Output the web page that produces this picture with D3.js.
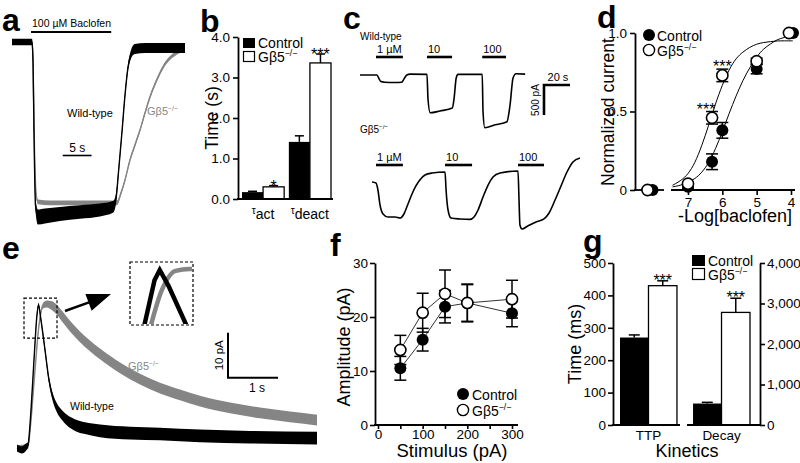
<!DOCTYPE html>
<html><head><meta charset="utf-8">
<script src="https://cdn.jsdelivr.net/npm/d3@7"></script>
<style>
body{margin:0;background:#fff}
svg{display:block}
</style></head><body>
<svg id="fig" width="800" height="463"></svg>
<script>
// ---------------- DATA ----------------
// Panel a: 100 µM baclofen response, normalized current vs time (s)
const aT_wt = [0, 3.47, 3.64, 3.81, 4.07, 4.5, 5.72, 8.3, 11.8, 15.25, 17.5, 18.0, 18.5, 19.1, 19.6, 20.1, 20.6, 21.3, 23.1, 30];
const aI_wt = [0, 0, -0.107, -0.524, -0.97, -1.042, -1.036, -1.024, -1.012, -1.0, -0.982, -0.94, -0.762, -0.524, -0.315, -0.155, -0.077, -0.042, -0.036, -0.036];
const aN_wt = [0.02, 0.02, 0.02, 0.02, 0.035, 0.045, 0.045, 0.042, 0.04, 0.038, 0.035, 0.03, 0.02, 0.02, 0.02, 0.02, 0.025, 0.03, 0.03, 0.03];
const aT_ko = [0, 3.47, 3.64, 3.9, 4.16, 4.5, 6.6, 11.8, 17.3, 18.2, 18.9, 19.6, 20.46, 21.33, 22.2, 23.06, 23.93, 24.8, 25.66, 26.53, 27.4, 28.26, 29.13, 30];
const aI_ko = [0, 0, -0.107, -0.643, -0.893, -0.952, -0.958, -0.958, -0.958, -0.958, -0.899, -0.821, -0.702, -0.613, -0.524, -0.423, -0.327, -0.25, -0.185, -0.131, -0.095, -0.071, -0.054, -0.048];
const aN_ko = [0.012, 0.012, 0.012, 0.012, 0.012, 0.014, 0.014, 0.014, 0.014, 0.014, 0.012, 0.012, 0.012, 0.012, 0.012, 0.012, 0.012, 0.012, 0.012, 0.012, 0.012, 0.012, 0.012, 0.012];
const aApp = [3.3, 17.2];

// Panel b: activation / deactivation time constants (s)
const bGroups = ["act", "deact"];
const bCtrl = [0.17, 1.41];
const bCtrlErr = [0.02, 0.15];
const bKO = [0.30, 3.36];
const bKOErr = [0.03, 0.22];
const bSig = ["*", "***"];
const bTicks = [0, 1, 2, 3, 4];

// Panel c: baclofen dose traces (time s, current pA)
const cT_wt = [0, 13, 14.6, 16, 19, 27, 32, 34, 36, 38.5, 51.5, 52.3, 54, 61.5, 71, 72.3, 74, 75.4, 94, 94.6, 96, 104, 113, 115.4, 117.7, 120, 127];
const cI_wt = [0, 0, -60, -110, -120, -125, -120, -60, 0, 15, 10, -400, -630, -600, -550, -400, -50, 10, 10, -600, -880, -830, -780, -500, -50, 20, 15];
const cT_ko = [9.2, 12.3, 13.8, 15.4, 17.7, 21.5, 27, 30.8, 33.8, 36.9, 40, 43, 46, 50, 55.4, 65.4, 66.2, 67.7, 70, 77, 84.6, 87.7, 90.8, 94.6, 98.5, 102.3, 107.7, 121.5, 122.3, 123, 124.6, 129, 135.4, 141.5, 145.4, 150, 154.6, 159.2, 163.8, 169.2];
const cI_ko = [-167, -183, -300, -550, -700, -750, -750, -767, -700, -533, -367, -233, -133, -50, -17, 0, -300, -633, -767, -783, -790, -750, -633, -417, -217, -83, -17, 17, -467, -883, -950, -900, -833, -783, -683, -467, -233, 0, 167, 233];
const cAppLabels = ["1 µM", "10", "100"];
const cAppStartWt = [12.3, 51.5, 94];
const cAppEndWt = [33, 70.8, 112.3];
const cAppStartKo = [12.3, 65.4, 121.5];
const cAppEndKo = [33, 86.2, 141.5];

// Panel d: dose-response
const dConc = [7, 6.3, 6, 5, 4];
const dCtrl = [0.02, 0.18, 0.38, 0.77, 1.0];
const dCtrlErr = [0.01, 0.05, 0.05, 0.03, 0.01];
const dKO = [0.04, 0.46, 0.73, 0.82, 1.0];
const dKOErr = [0.01, 0.04, 0.04, 0.02, 0.01];
const dKOSig = ["", "***", "***", "", ""];
const dBaseline = [0, 0];
const dFitX = [7.45, 7.2, 7.0, 6.8, 6.6, 6.4, 6.2, 6.0, 5.8, 5.6, 5.4, 5.2, 5.0, 4.8, 4.6, 4.4, 4.2, 3.95];
const dFitCtrl = [0.02, 0.03, 0.05, 0.07, 0.11, 0.17, 0.26, 0.37, 0.49, 0.60, 0.70, 0.78, 0.85, 0.90, 0.93, 0.96, 0.97, 0.99];
const dFitKO = [0.03, 0.06, 0.10, 0.17, 0.28, 0.41, 0.55, 0.67, 0.77, 0.84, 0.88, 0.91, 0.93, 0.94, 0.945, 0.95, 0.95, 0.95];
const dXTicks = [7, 6, 5, 4];
const dYTicks = [0, 0.5, 1];

// Panel e: evoked currents (time s, current pA)
const eT_wt = [0, 0.1, 0.18, 0.22, 0.28, 0.34, 0.4, 0.43, 0.48, 0.56, 0.64, 0.72, 0.8, 0.9, 1.0, 1.16, 1.36, 1.66, 2.26, 2.86, 3.66, 4.66, 6.0];
const eI_wt = [0, -0.4, 0.2, 0.7, 8.4, 19.6, 29.6, 31.8, 28.4, 21.8, 15.1, 11.1, 8.9, 7.3, 6.2, 5.1, 4.4, 3.8, 3.3, 3.1, 2.7, 2.4, 2.2];
const eN_wt = [0.8, 0.8, 0.8, 0.6, 0.5, 0.5, 0.5, 0.5, 0.5, 0.6, 0.7, 0.9, 1.0, 1.1, 1.2, 1.3, 1.3, 1.4, 1.4, 1.4, 1.4, 1.4, 1.4];
const eT_ko = [0, 0.22, 0.28, 0.36, 0.44, 0.52, 0.6, 0.7, 0.8, 0.9, 1.06, 1.26, 1.66, 2.06, 2.46, 2.86, 3.26, 3.66, 4.26, 4.86, 5.46, 6.0];
const eI_ko = [0, 0.4, 6.2, 17.3, 27.3, 31.6, 32, 31.6, 30.7, 29.3, 27.1, 24.7, 20.9, 17.8, 15.3, 13.3, 11.8, 10.4, 8.9, 7.8, 6.9, 6.2];
const eN_ko = [0.6, 0.6, 0.5, 0.5, 0.5, 0.6, 0.8, 1.0, 1.1, 1.2, 1.2, 1.2, 1.2, 1.2, 1.2, 1.2, 1.2, 1.2, 1.2, 1.2, 1.2, 1.2];

// Panel f: amplitude vs stimulus
const fStim = [50, 100, 150, 200, 300];
const fCtrl = [10.5, 15.8, 21.9, 22.6, 20.7];
const fCtrlErr = [2.2, 2.1, 3.0, 3.5, 2.5];
const fKO = [13.9, 20.8, 24.3, 22.6, 23.3];
const fKOErr = [2.7, 3.6, 4.4, 3.4, 3.5];
const fXTicks = [0, 50, 100, 150, 200, 250, 300];
const fYTicks = [0, 10, 20, 30];

// Panel g: kinetics (ms)
const gGroups = ["TTP", "Decay"];
const gCtrl = [270, 530];
const gCtrlErr = [8, 30];
const gKO = [430, 2780];
const gKOErr = [15, 350];
const gSig = ["***", "***"];
const gLeftTicks = [0, 100, 200, 300, 400, 500];
const gRightTicks = [0, 1000, 2000, 3000, 4000];

// ---------------- DRAWING ----------------
const FONT = '"Liberation Sans", Arial, Helvetica, sans-serif';
const GRAY = "#858585";
const svg = d3.select("#fig").attr("font-family", FONT);

function txt(x, y, s, size, o = {}) {
  const t = svg.append("text").attr("x", x).attr("y", y).attr("font-size", size).text(s);
  if (o.anchor) t.attr("text-anchor", o.anchor);
  if (o.weight) t.attr("font-weight", o.weight);
  if (o.fill) t.attr("fill", o.fill);
  if (o.rotate) t.attr("transform", `rotate(-90,${x},${y})`);
  return t;
}
function gb5(x, y, size, o = {}) {
  const t = svg.append("text").attr("x", x).attr("y", y).attr("font-size", size);
  if (o.anchor) t.attr("text-anchor", o.anchor);
  if (o.fill) t.attr("fill", o.fill);
  t.append("tspan").text("Gβ5");
  t.append("tspan").attr("font-size", size * 0.62).attr("dy", -size * 0.4).text("−/−");
  return t;
}
function line(x1, y1, x2, y2, w = 1.8, c = "#000") {
  return svg.append("line").attr("x1", x1).attr("y1", y1).attr("x2", x2).attr("y2", y2)
    .attr("stroke", c).attr("stroke-width", w);
}
function styleAxis(g) {
  g.attr("font-size", 13.5).attr("font-family", FONT);
  g.select(".domain").attr("stroke-width", 1.8);
  g.selectAll(".tick line").attr("stroke-width", 1.6);
  g.selectAll(".tick text").attr("fill", "#000");
}
function band(T, I, N, xs, ys, color) {
  const idx = d3.range(T.length);
  svg.append("path").attr("d", d3.area().x(i => xs(T[i])).y0(i => ys(I[i] - N[i])).y1(i => ys(I[i] + N[i])).curve(d3.curveMonotoneX)(idx))
    .attr("fill", color);
  svg.append("path").attr("d", d3.line().x(i => xs(T[i])).y(i => ys(I[i])).curve(d3.curveMonotoneX)(idx))
    .attr("fill", "none").attr("stroke", color).attr("stroke-width", 1.4);
}
function errBar(x, yTop, yBot, half, w = 1.5, c = "#000") {
  line(x, yTop, x, yBot, w, c);
  line(x - half, yTop, x + half, yTop, w, c);
}

// Panel letters
[["a", 2, 31], ["b", 200, 32], ["c", 343, 29], ["d", 597, 28], ["e", 2, 259], ["f", 330, 256], ["g", 583, 252]]
  .forEach(([s, x, y]) => txt(x, y, s, 32, { weight: "bold" }));

// ===== Panel a =====
{
  const x = d3.scaleLinear().domain([0, 30]).range([12, 185]);
  const y = d3.scaleLinear().domain([0, -1]).range([42, 210]);
  band(aT_ko, aI_ko, aN_ko, x, y, GRAY);
  band(aT_wt, aI_wt, aN_wt, x, y, "#000");
  line(x(aApp[0]), 32, x(aApp[1]), 32, 2);
  txt(x(aApp[0]) + 1, 27, "100 µM Baclofen", 10.5);
  txt(67, 117, "Wild-type", 11);
  gb5(147, 115, 11, { fill: GRAY });
  line(x(8.8), 155.5, x(13.8), 155.5, 1.6);
  txt((x(8.8) + x(13.8)) / 2, 152, "5 s", 12, { anchor: "middle" });
}

// ===== Panel b =====
{
  const y = d3.scaleLinear().domain([0, 4]).range([199, 37]);
  const x0 = d3.scaleBand().domain(bGroups).range([242, 331]).paddingInner(0.1);
  const x1 = d3.scaleBand().domain(["ctrl", "ko"]).range([0, x0.bandwidth()]);
  bGroups.forEach((g, i) => {
    const xc = x0(g) + x1("ctrl"), xk = x0(g) + x1("ko"), w = x1.bandwidth();
    errBar(xc + w / 2, y(bCtrl[i] + bCtrlErr[i]), y(bCtrl[i]), 4.5);
    svg.append("rect").attr("x", xc).attr("y", y(bCtrl[i])).attr("width", w).attr("height", y(0) - y(bCtrl[i])).attr("fill", "#000");
    errBar(xk + w / 2, y(bKO[i] + bKOErr[i]), y(bKO[i]), 4.5);
    svg.append("rect").attr("x", xk).attr("y", y(bKO[i])).attr("width", w).attr("height", y(0) - y(bKO[i]))
      .attr("fill", "#fff").attr("stroke", "#000").attr("stroke-width", 1.3);
    txt(xk + w / 2, y(bKO[i] + bKOErr[i]) + 6, bSig[i], 16, { anchor: "middle" });
    const t = svg.append("text").attr("x", x0(g) + x0.bandwidth() / 2).attr("y", 219).attr("text-anchor", "middle").attr("font-size", 14);
    t.append("tspan").attr("font-size", 10).attr("dy", -5).text("τ");
    t.append("tspan").attr("dy", 5).text(g);
  });
  svg.append("g").attr("transform", "translate(238,0)")
    .call(d3.axisLeft(y).tickValues(bTicks).tickSize(5).tickSizeOuter(0).tickPadding(3)).call(styleAxis);
  line(237.1, y(0), 333, y(0));
  txt(218, 118, "Time (s)", 17.5, { anchor: "middle", rotate: true });
  svg.append("rect").attr("x", 243).attr("y", 38).attr("width", 12).attr("height", 10).attr("fill", "#000");
  txt(258, 48, "Control", 14);
  svg.append("rect").attr("x", 243.5).attr("y", 51.5).attr("width", 11).attr("height", 10).attr("fill", "#fff").attr("stroke", "#000").attr("stroke-width", 1.2);
  gb5(258, 62, 14);
}

// ===== Panel c =====
{
  const x = d3.scaleLinear().domain([0, 169.2]).range([360, 580]);
  const yW = d3.scaleLinear().domain([0, -1000]).range([75, 135]);
  const yK = d3.scaleLinear().domain([0, -1000]).range([172, 232]);
  const lw = d3.line().x(i => x(cT_wt[i])).y(i => yW(cI_wt[i])).curve(d3.curveMonotoneX);
  const lk = d3.line().x(i => x(cT_ko[i])).y(i => yK(cI_ko[i])).curve(d3.curveMonotoneX);
  svg.append("path").attr("d", lw(d3.range(cT_wt.length))).attr("fill", "none").attr("stroke", "#000").attr("stroke-width", 1.6);
  svg.append("path").attr("d", lk(d3.range(cT_ko.length))).attr("fill", "none").attr("stroke", "#000").attr("stroke-width", 1.6);
  txt(360, 40, "Wild-type", 10);
  gb5(360, 133, 10);
  cAppLabels.forEach((lab, i) => {
    line(x(cAppStartWt[i]), 57, x(cAppEndWt[i]), 57, 2.6);
    txt(x(cAppStartWt[i]) + 1, 53, lab, 11);
    line(x(cAppStartKo[i]), 165, x(cAppEndKo[i]), 165, 2.6);
    txt(x(cAppStartKo[i]) + 1, 161, lab, 11);
  });
  const sx0 = x(141.5), sx1 = x(161.5), sy0 = yW(-167), sy1 = yW(-667);
  svg.append("path").attr("d", `M${sx1},${sy0}H${sx0}V${sy1}`).attr("fill", "none").attr("stroke", "#000").attr("stroke-width", 2.6);
  txt((sx0 + sx1) / 2 + 1, sy0 - 4, "20 s", 11, { anchor: "middle" });
  txt(sx0 - 5, (sy0 + sy1) / 2, "500 pA", 10, { anchor: "middle", rotate: true });
}

// ===== Panel d =====
{
  const x = d3.scaleLinear().domain([7, 4]).range([688, 791]);
  const y = d3.scaleLinear().domain([0, 1]).range([190, 33]);
  const seg1 = [635, 664], seg2 = [671, 795];
  const bx = (seg1[0] + seg1[1]) / 2;
  svg.append("g").attr("transform", "translate(635,0)")
    .call(d3.axisLeft(y).tickValues(dYTicks).tickSize(5).tickSizeOuter(0).tickPadding(3)
      .tickFormat(d => d === 0 ? "0" : d3.format(".1f")(d))).call(styleAxis);
  const xa = svg.append("g").attr("transform", "translate(0,190)")
    .call(d3.axisBottom(x).tickValues(dXTicks).tickSize(5).tickPadding(2).tickFormat(d3.format("d"))).call(styleAxis);
  xa.select(".domain").remove();
  line(seg1[0] - 0.9, 190, seg1[1], 190);
  line(seg2[0], 190, seg2[1], 190);
  // fits
  const idx = d3.range(dFitX.length);
  svg.append("path").attr("d", d3.line().x(i => x(dFitX[i])).y(i => y(dFitCtrl[i])).curve(d3.curveBasis)(idx))
    .attr("fill", "none").attr("stroke", "#000").attr("stroke-width", 1);
  svg.append("path").attr("d", d3.line().x(i => x(dFitX[i])).y(i => y(dFitKO[i])).curve(d3.curveBasis)(idx))
    .attr("fill", "none").attr("stroke", "#000").attr("stroke-width", 1);
  // baseline points
  svg.append("circle").attr("cx", bx + 3).attr("cy", y(dBaseline[0])).attr("r", 6).attr("fill", "#000");
  svg.append("circle").attr("cx", bx - 2).attr("cy", y(dBaseline[1])).attr("r", 5.6).attr("fill", "#fff").attr("stroke", "#000").attr("stroke-width", 1.6);
  dConc.forEach((c, i) => {
    line(x(c), y(dCtrl[i] + dCtrlErr[i]), x(c), y(dCtrl[i] - dCtrlErr[i]), 1.5);
    line(x(c) - 6, y(dCtrl[i] + dCtrlErr[i]), x(c) + 6, y(dCtrl[i] + dCtrlErr[i]), 1.5);
    line(x(c) - 6, y(dCtrl[i] - dCtrlErr[i]), x(c) + 6, y(dCtrl[i] - dCtrlErr[i]), 1.5);
    svg.append("circle").attr("cx", x(c) + (i === 4 ? 2 : 0)).attr("cy", y(dCtrl[i])).attr("r", 6).attr("fill", "#000");
  });
  dConc.forEach((c, i) => {
    line(x(c), y(dKO[i] + dKOErr[i]), x(c), y(dKO[i] - dKOErr[i]), 1.5);
    line(x(c) - 6, y(dKO[i] + dKOErr[i]), x(c) + 6, y(dKO[i] + dKOErr[i]), 1.5);
    line(x(c) - 6, y(dKO[i] - dKOErr[i]), x(c) + 6, y(dKO[i] - dKOErr[i]), 1.5);
    svg.append("circle").attr("cx", x(c) - (i === 4 ? 2 : 0)).attr("cy", y(dKO[i])).attr("r", 5.6).attr("fill", "#fff").attr("stroke", "#000").attr("stroke-width", 1.6);
    if (dKOSig[i]) txt(x(c) - (i === 1 ? 6 : 0), y(dKO[i] + dKOErr[i]) + 3, dKOSig[i], 16, { anchor: "middle" });
  });
  svg.append("circle").attr("cx", 649).attr("cy", 35).attr("r", 6).attr("fill", "#000");
  txt(657, 40.5, "Control", 14);
  svg.append("circle").attr("cx", 649).attr("cy", 50).attr("r", 5.6).attr("fill", "#fff").attr("stroke", "#000").attr("stroke-width", 1.4);
  gb5(657, 55.5, 14);
  txt(614, 112, "Normalized current", 17.5, { anchor: "middle", rotate: true });
  txt(735, 222, "-Log[baclofen]", 18, { anchor: "middle" });
}

// ===== Panel e =====
{
  const x = d3.scaleLinear().domain([0, 6]).range([17, 317]);
  const y = d3.scaleLinear().domain([0, 40]).range([448, 268]);
  band(eT_ko, eI_ko, eN_ko, x, y, GRAY);
  band(eT_wt, eI_wt, eN_wt, x, y, "#000");
  // dashed box around peak
  const bx0 = x(0.14), bx1 = x(0.8), by0 = y(33.3), by1 = y(24.4);
  svg.append("rect").attr("x", bx0).attr("y", by0).attr("width", bx1 - bx0).attr("height", by1 - by0)
    .attr("fill", "none").attr("stroke", "#000").attr("stroke-width", 1.2).attr("stroke-dasharray", "3,2");
  // arrow
  line(65, 311, 89, 302.3, 2.4);
  svg.append("polygon").attr("points", "111,294 85.4,293.9 91.6,310.7").attr("fill", "#000");
  // inset (zoomed view of the same traces)
  const ix = d3.scaleLinear().domain([0.26, 0.62]).range([130, 193]);
  const iy = d3.scaleLinear().domain([20, 33.5]).range([325, 262]);
  svg.append("clipPath").attr("id", "insetClip").append("rect").attr("x", 131).attr("y", 263).attr("width", 61).attr("height", 61);
  const ig = svg.append("g").attr("clip-path", "url(#insetClip)");
  ig.append("path").attr("d", d3.line().x(i => ix(eT_ko[i])).y(i => iy(eI_ko[i])).curve(d3.curveMonotoneX)(d3.range(eT_ko.length)))
    .attr("fill", "none").attr("stroke", GRAY).attr("stroke-width", 4.5);
  ig.append("path").attr("d", d3.line().x(i => ix(eT_wt[i])).y(i => iy(eI_wt[i]))(d3.range(eT_wt.length)))
    .attr("fill", "none").attr("stroke", "#000").attr("stroke-width", 4.5);
  svg.append("rect").attr("x", 130).attr("y", 262).attr("width", 63).attr("height", 63)
    .attr("fill", "none").attr("stroke", "#000").attr("stroke-width", 1.2).attr("stroke-dasharray", "3,2");
  // scale bar
  const sx0 = x(4.22), sx1 = x(5.22), sy0 = y(15.6), sy1 = y(25.6);
  svg.append("path").attr("d", `M${sx0},${sy1}V${sy0}H${sx1}`).attr("fill", "none").attr("stroke", "#000").attr("stroke-width", 2);
  txt((sx0 + sx1) / 2 + 4, sy0 + 14, "1 s", 12, { anchor: "middle" });
  txt(sx0 - 5, (sy0 + sy1) / 2, "10 pA", 11.5, { anchor: "middle", rotate: true });
  gb5(128, 370, 11, { fill: GRAY });
  txt(70, 410, "Wild-type", 10.5);
}

// ===== Panel f =====
{
  const x = d3.scaleLinear().domain([0, 300]).range([378, 512]);
  const y = d3.scaleLinear().domain([0, 30]).range([425, 263]);
  svg.append("g").attr("transform", "translate(375,0)")
    .call(d3.axisLeft(y).tickValues(fYTicks).tickSize(5).tickSizeOuter(0).tickPadding(2)).call(styleAxis);
  const xa = svg.append("g").attr("transform", "translate(0,425)")
    .call(d3.axisBottom(x).tickValues(fXTicks).tickSize(4).tickPadding(0).tickFormat(d => d % 100 === 0 ? d : "")).call(styleAxis);
  xa.select(".domain").remove();
  line(374.1, 425, 518, 425);
  const idx = d3.range(fStim.length);
  svg.append("path").attr("d", d3.line().x(i => x(fStim[i])).y(i => y(fCtrl[i]))(idx)).attr("fill", "none").attr("stroke", "#333").attr("stroke-width", 1);
  svg.append("path").attr("d", d3.line().x(i => x(fStim[i])).y(i => y(fKO[i]))(idx)).attr("fill", "none").attr("stroke", "#333").attr("stroke-width", 1);
  const eb = (cx, v, e) => {
    line(cx, y(v + e), cx, y(v - e), 1.5);
    line(cx - 6, y(v + e), cx + 6, y(v + e), 1.5);
    line(cx - 6, y(v - e), cx + 6, y(v - e), 1.5);
  };
  fStim.forEach((s, i) => eb(x(s), fCtrl[i], fCtrlErr[i]));
  fStim.forEach((s, i) => eb(x(s), fKO[i], fKOErr[i]));
  fStim.forEach((s, i) => svg.append("circle").attr("cx", x(s)).attr("cy", y(fCtrl[i])).attr("r", 6).attr("fill", "#000"));
  fStim.forEach((s, i) => svg.append("circle").attr("cx", x(s)).attr("cy", y(fKO[i])).attr("r", 5.6).attr("fill", "#fff").attr("stroke", "#000").attr("stroke-width", 1.6));
  svg.append("circle").attr("cx", 463).attr("cy", 394).attr("r", 6).attr("fill", "#000");
  txt(472, 399.5, "Control", 14);
  svg.append("circle").attr("cx", 463).attr("cy", 410).attr("r", 5.6).attr("fill", "#fff").attr("stroke", "#000").attr("stroke-width", 1.4);
  gb5(472, 415.5, 14);
  txt(350, 347, "Amplitude (pA)", 18, { anchor: "middle", rotate: true });
  txt(452, 457, "Stimulus (pA)", 18.5, { anchor: "middle" });
}

// ===== Panel g =====
{
  const yL = d3.scaleLinear().domain([0, 500]).range([425, 263]);
  const yR = d3.scaleLinear().domain([0, 4000]).range([425, 263]);
  const yS = [yL, yR];
  const x0 = d3.scaleBand().domain(gGroups).range([620, 750]).paddingInner(0.22);
  const x1 = d3.scaleBand().domain(["ctrl", "ko"]).range([0, x0.bandwidth()]);
  gGroups.forEach((g, i) => {
    const y = yS[i];
    const xc = x0(g) + x1("ctrl"), xk = x0(g) + x1("ko"), w = x1.bandwidth();
    errBar(xc + w / 2, y(gCtrl[i] + gCtrlErr[i]), y(gCtrl[i]), 5.5);
    svg.append("rect").attr("x", xc).attr("y", y(gCtrl[i])).attr("width", w).attr("height", y(0) - y(gCtrl[i])).attr("fill", "#000");
    errBar(xk + w / 2, y(gKO[i] + gKOErr[i]), y(gKO[i]), 5.5);
    svg.append("rect").attr("x", xk).attr("y", y(gKO[i])).attr("width", w).attr("height", y(0) - y(gKO[i]))
      .attr("fill", "#fff").attr("stroke", "#000").attr("stroke-width", 1.3);
    txt(xk + w / 2, y(gKO[i] + gKOErr[i]) + 5, gSig[i], 16, { anchor: "middle" });
    txt(x0(g) + x0.bandwidth() / 2, 440, g, 13.5, { anchor: "middle" });
  });
  svg.append("g").attr("transform", "translate(613,0)")
    .call(d3.axisLeft(yL).tickValues(gLeftTicks).tickSize(5).tickSizeOuter(0).tickPadding(2)).call(styleAxis);
  svg.append("g").attr("transform", "translate(760,0)")
    .call(d3.axisRight(yR).tickValues(gRightTicks).tickSize(5).tickSizeOuter(0).tickPadding(2).tickFormat(d3.format(","))).call(styleAxis);
  line(612.1, 425, x0("TTP") + x0.bandwidth() + 3, 425);
  line(x0("Decay") - 6, 425, 760.9, 425);
  svg.append("rect").attr("x", 692).attr("y", 255).attr("width", 13).attr("height", 11).attr("fill", "#000");
  txt(708, 266, "Control", 14);
  svg.append("rect").attr("x", 692.5).attr("y", 268.5).attr("width", 12).attr("height", 11).attr("fill", "#fff").attr("stroke", "#000").attr("stroke-width", 1.2);
  gb5(708, 280, 14);
  txt(581, 344, "Time (ms)", 18, { anchor: "middle", rotate: true });
  txt(687, 457, "Kinetics", 18, { anchor: "middle" });
}
</script>
</body></html>
